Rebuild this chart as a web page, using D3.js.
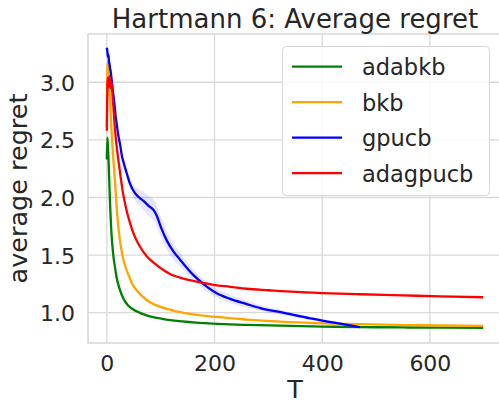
<!DOCTYPE html>
<html>
<head>
<meta charset="utf-8">
<script src="https://cdn.jsdelivr.net/npm/d3@7"></script>
<style>
	body { margin: 0; background: #fff; }
	text { font-family: "DejaVu Sans", sans-serif; fill: #262626; }
</style>
</head>
<body>
<div id="chart"></div>
<script>
// Values
var adabkbT = [0,1,2,3,4,5,6,7,8,10,12,15,18,21,25,31,40,56,75,105,140,197,260,322,400,470,550,620,699]
var adabkbY = [2.33,2.52,2.45,2.35,2.22,2.08,1.95,1.84,1.74,1.6,1.5,1.4,1.31,1.25,1.19,1.12,1.06,1.01,0.975,0.945,0.925,0.905,0.895,0.887,0.88,0.875,0.872,0.87,0.868]

var bkbT = [0,1,2,3,4,5,6,7,8,10,12,15,18,21,24,28,33,40,46,56,74,100,136,198,260,322,400,470,550,620,699]
var bkbY = [2.62,3.1,3.18,3.1,3.0,2.92,2.85,2.75,2.65,2.48,2.34,2.15,1.93,1.76,1.64,1.52,1.42,1.33,1.26,1.19,1.11,1.05,1.005,0.965,0.94,0.922,0.908,0.9,0.893,0.889,0.886]

var gpucbT = [0,1,2,3,4,5,6,7,8,9,10,12,14,16,18,21,25,28,32,37,43,52,60,68,77,87,93,99,111,124,136,160,179,200,229,260,285,327,378,420,470]
var gpucbY = [3.3,3.27,3.22,3.24,3.18,3.16,3.12,3.1,3.06,3.02,2.98,2.9,2.82,2.72,2.65,2.55,2.45,2.36,2.29,2.21,2.12,2.04,2.0,1.97,1.93,1.89,1.84,1.76,1.63,1.53,1.46,1.33,1.25,1.18,1.12,1.075,1.04,1.0,0.95,0.915,0.875]
var gpucbSpread = [0.01,0.01,0.01,0.01,0.01,0.01,0.01,0.01,0.015,0.015,0.015,0.02,0.02,0.02,0.02,0.02,0.02,0.025,0.03,0.035,0.045,0.06,0.07,0.08,0.085,0.09,0.09,0.085,0.08,0.07,0.06,0.05,0.045,0.04,0.035,0.03,0.025,0.02,0.015,0.012,0.01]

var adagpucbT = [0,1,2,3,4,5,6,7,8,9,10,12,14,17,21,25,30,36,43,52,62,74,88,105,120,136,156,176,200,229,260,300,350,400,470,550,620,699]
var adagpucbY = [2.58,2.98,3.04,2.96,3.02,3.05,3.0,2.95,3.0,2.98,2.92,2.8,2.66,2.5,2.34,2.2,2.04,1.9,1.78,1.66,1.57,1.49,1.43,1.37,1.33,1.305,1.28,1.26,1.24,1.225,1.208,1.195,1.18,1.17,1.16,1.15,1.142,1.134]

var seriesNames = ["adabkb", "bkb", "gpucb", "adagpucb"]
var seriesColors = ["green", "orange", "blue", "red"]

var xTicks = [0, 200, 400, 600]
var yTicks = [1.0, 1.5, 2.0, 2.5, 3.0]

var W = 499, H = 404
var margin = {top: 34, right: -3, bottom: 61, left: 88}
var width = W - margin.left - margin.right,
	height = H - margin.top - margin.bottom

var svg = d3.select("#chart")
	.append("svg")
		.attr("width", W)
		.attr("height", H)

var g = svg.append("g")
	.attr("transform", "translate(" + margin.left + "," + margin.top + ")")

// scales (matplotlib-like 5% padding)
var xScale = d3.scaleLinear().domain([-34.95, 733.95]).range([0, width])
var yScale = d3.scaleLinear().domain([0.737, 3.419]).range([height, 0])

// grid
g.selectAll(".xgrid").data(xTicks).enter().append("line")
	.attr("x1", d => xScale(d)).attr("x2", d => xScale(d))
	.attr("y1", 0).attr("y2", height)
	.attr("stroke", "#d9d9d9").attr("stroke-width", 1.3)
g.selectAll(".ygrid").data(yTicks).enter().append("line")
	.attr("x1", 0).attr("x2", width)
	.attr("y1", d => yScale(d)).attr("y2", d => yScale(d))
	.attr("stroke", "#d9d9d9").attr("stroke-width", 1.3)

// frame
g.append("rect")
	.attr("width", width).attr("height", height)
	.attr("fill", "none").attr("stroke", "#d0d0d0").attr("stroke-width", 1.3)

// axes (no tick marks, seaborn whitegrid)
var xAxis = d3.axisBottom(xScale).tickValues(xTicks).tickSize(0).tickPadding(12).tickFormat(d3.format("d"))
var yAxis = d3.axisLeft(yScale).tickValues(yTicks).tickSize(0).tickPadding(13).tickFormat(d3.format(".1f"))
var gx = g.append("g").attr("transform", "translate(0," + height + ")").call(xAxis)
var gy = g.append("g").call(yAxis)
gx.select(".domain").remove()
gy.select(".domain").remove()
g.selectAll(".tick text")
	.style("font-size", "22px")
	.style("font-family", "DejaVu Sans")
	.attr("fill", "#262626")
gy.selectAll(".tick text").attr("dy", "0.36em")

// clip
g.append("clipPath").attr("id", "clip")
	.append("rect").attr("width", width).attr("height", height)
var plot = g.append("g").attr("clip-path", "url(#clip)")

var line = d3.line().x(d => xScale(d[0])).y(d => yScale(d[1])).curve(d3.curveMonotoneX)

var allT = [adabkbT, bkbT, gpucbT, adagpucbT]
var allY = [adabkbY, bkbY, gpucbY, adagpucbY]

allT.forEach((ts, i) => {
	var pts = ts.map((t, j) => [t, allY[i][j]])
	if (seriesNames[i] == "gpucb") {
		var band = ts.map((t, j) => [t, allY[i][j] - gpucbSpread[j], allY[i][j] + gpucbSpread[j]])
		plot.append("path")
			.datum(band)
			.attr("fill", "blue")
			.attr("fill-opacity", 0.1)
			.attr("d", d3.area().x(d => xScale(d[0])).y0(d => yScale(d[1])).y1(d => yScale(d[2])).curve(d3.curveMonotoneX))
	}
	plot.append("path")
		.datum(pts)
		.attr("fill", "none")
		.attr("stroke", seriesColors[i])
		.attr("stroke-width", 2.3)
		.attr("stroke-linejoin", "round")
		.attr("d", line)
})

// title and labels
svg.append("text")
	.attr("x", margin.left + width / 2).attr("y", 28)
	.attr("text-anchor", "middle")
	.style("font-size", "26px")
	.text("Hartmann 6: Average regret")
svg.append("text")
	.attr("x", margin.left + width / 2).attr("y", 398)
	.attr("text-anchor", "middle")
	.style("font-size", "25.5px")
	.text("T")
svg.append("text")
	.attr("transform", "translate(27," + (margin.top + height / 2) + ") rotate(-90)")
	.attr("text-anchor", "middle")
	.style("font-size", "25.5px")
	.text("average regret")

// legend
var legend = svg.append("g")
legend.append("rect")
	.attr("x", 282.5).attr("y", 46.5)
	.attr("width", 207).attr("height", 149)
	.attr("rx", 4)
	.attr("fill", "white").attr("fill-opacity", 0.8)
	.attr("stroke", "#d6d6d6").attr("stroke-width", 1)
seriesNames.forEach((name, i) => {
	var ly = 66.7 + i * 35.5
	legend.append("line")
		.attr("x1", 292).attr("x2", 342)
		.attr("y1", ly).attr("y2", ly)
		.attr("stroke", seriesColors[i]).attr("stroke-width", 2.3)
	legend.append("text")
		.attr("x", 362).attr("y", ly + 8.5)
		.style("font-size", "22.5px")
		.text(name)
})
</script>
</body>
</html>
